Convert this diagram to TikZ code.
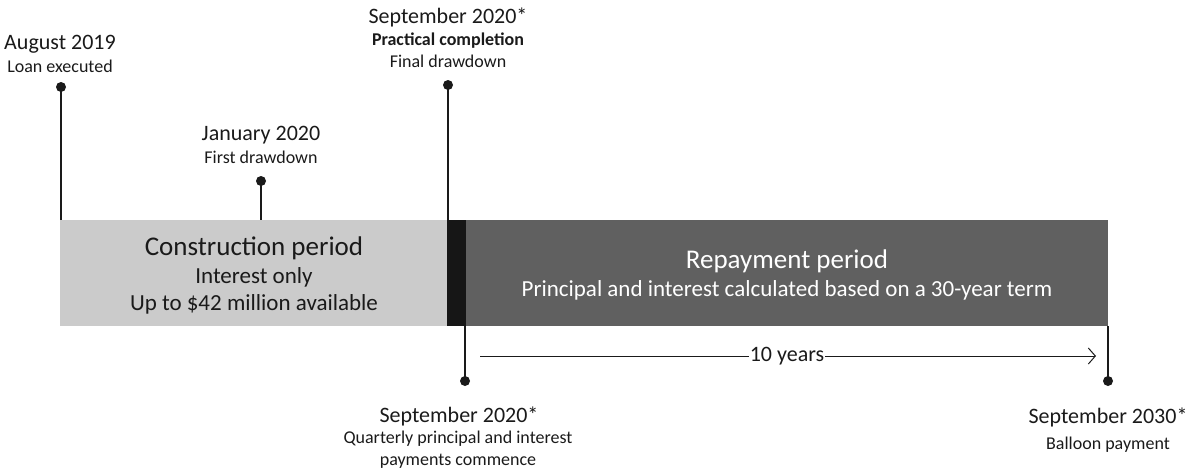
\documentclass[tikz,border=0pt]{standalone}
\usepackage{fontspec}
\setmainfont{Carlito}
\usetikzlibrary{arrows.meta}
\definecolor{lightbar}{HTML}{CBCBCB}
\definecolor{darkbar}{HTML}{606060}
\definecolor{blackbar}{HTML}{161616}
\definecolor{txt}{HTML}{1A1A1A}
\tikzset{
  big/.style={font=\fontsize{22}{26}\selectfont, text=txt, anchor=base, inner sep=0pt},
  small/.style={font=\fontsize{18}{21}\selectfont, text=txt, anchor=base, inner sep=0pt},
  stem/.style={line width=1.4pt, draw=txt},
  pin/.style={circle, fill=txt, inner sep=0pt, minimum size=10pt},
  bar/.style={draw=none, inner sep=0pt, anchor=north west},
}
\begin{document}
\begin{tikzpicture}[x=1pt,y=-1pt]
\useasboundingbox (0,0) rectangle (1189,469);
% bars
\node[bar, fill=lightbar, minimum width=387pt, minimum height=106pt] (cbar) at (60,220) {};
\node[bar, fill=blackbar, minimum width=19pt, minimum height=106pt] (kbar) at (447,220) {};
\node[bar, fill=darkbar, minimum width=642pt, minimum height=106pt] (rbar) at (466,220) {};
% bar texts
\node[font=\fontsize{27}{31}\selectfont, text=txt, anchor=base, inner sep=0pt] (ct1) at (254,255) {Construction period};
\node[font=\fontsize{23}{27}\selectfont, text=txt, anchor=base, inner sep=0pt] (ct2) at (254,283) {Interest only};
\node[font=\fontsize{23}{27}\selectfont, text=txt, anchor=base, inner sep=0pt] (ct3) at (254,310) {Up to \$42 million available};
\node[font=\fontsize{27}{31}\selectfont, text=white, anchor=base, inner sep=0pt] (rt1) at (787,268) {Repayment period};
\node[font=\fontsize{23}{27}\selectfont, text=white, anchor=base, inner sep=0pt] (rt2) at (787,296) {Principal and interest calculated based on a 30-year term};
% pins
\node[pin] (p1) at (61,87) {};
\coordinate (b1) at (61,220);
\node[pin] (p2) at (261,181) {};
\coordinate (b2) at (261,220);
\node[pin] (p3) at (448,85) {};
\coordinate (b3) at (448,220);
\node[pin] (p4) at (465,381) {};
\coordinate (b4) at (465,326);
\node[pin] (p5) at (1108,381) {};
\coordinate (b5) at (1108,326);
\draw[stem] (p1.center) -- (b1);
\draw[stem] (p2.center) -- (b2);
\draw[stem] (p3.center) -- (b3);
\draw[stem] (p4.center) -- (b4);
\draw[stem] (p5.center) -- (b5);
% labels
\node[big] (l1a) at (60,49) {August 2019};
\node[small] (l1b) at (60,72) {Loan executed};
\node[big] (l2a) at (261,140) {January 2020};
\node[small] (l2b) at (261,163) {First drawdown};
\node[big] (l3a) at (448,23) {September 2020*};
\node[small, font=\fontsize{18}{21}\selectfont\bfseries] (l3b) at (448,45) {Practical completion};
\node[small] (l3c) at (448,67) {Final drawdown};
\node[big] (l4a) at (459,422) {September 2020*};
\node[small] (l4b) at (458,443) {Quarterly principal and interest};
\node[small] (l4c) at (458,465) {payments commence};
\node[big] (l5a) at (1108,423) {September 2030*};
\node[small] (l5b) at (1108,449) {Balloon payment};
% 10 years arrow
\coordinate (a0) at (480,356);
\coordinate (a1) at (1096,356);
\draw[line width=1pt, draw=txt, -{Straight Barb[length=7pt, width=16pt, line width=1pt]}] (a0) -- (a1);
\node[fill=white, font=\fontsize{22}{26}\selectfont, text=txt, inner xsep=1pt, inner ysep=2pt] (ten) at (787,356) {10 years};
\end{tikzpicture}
\end{document}
